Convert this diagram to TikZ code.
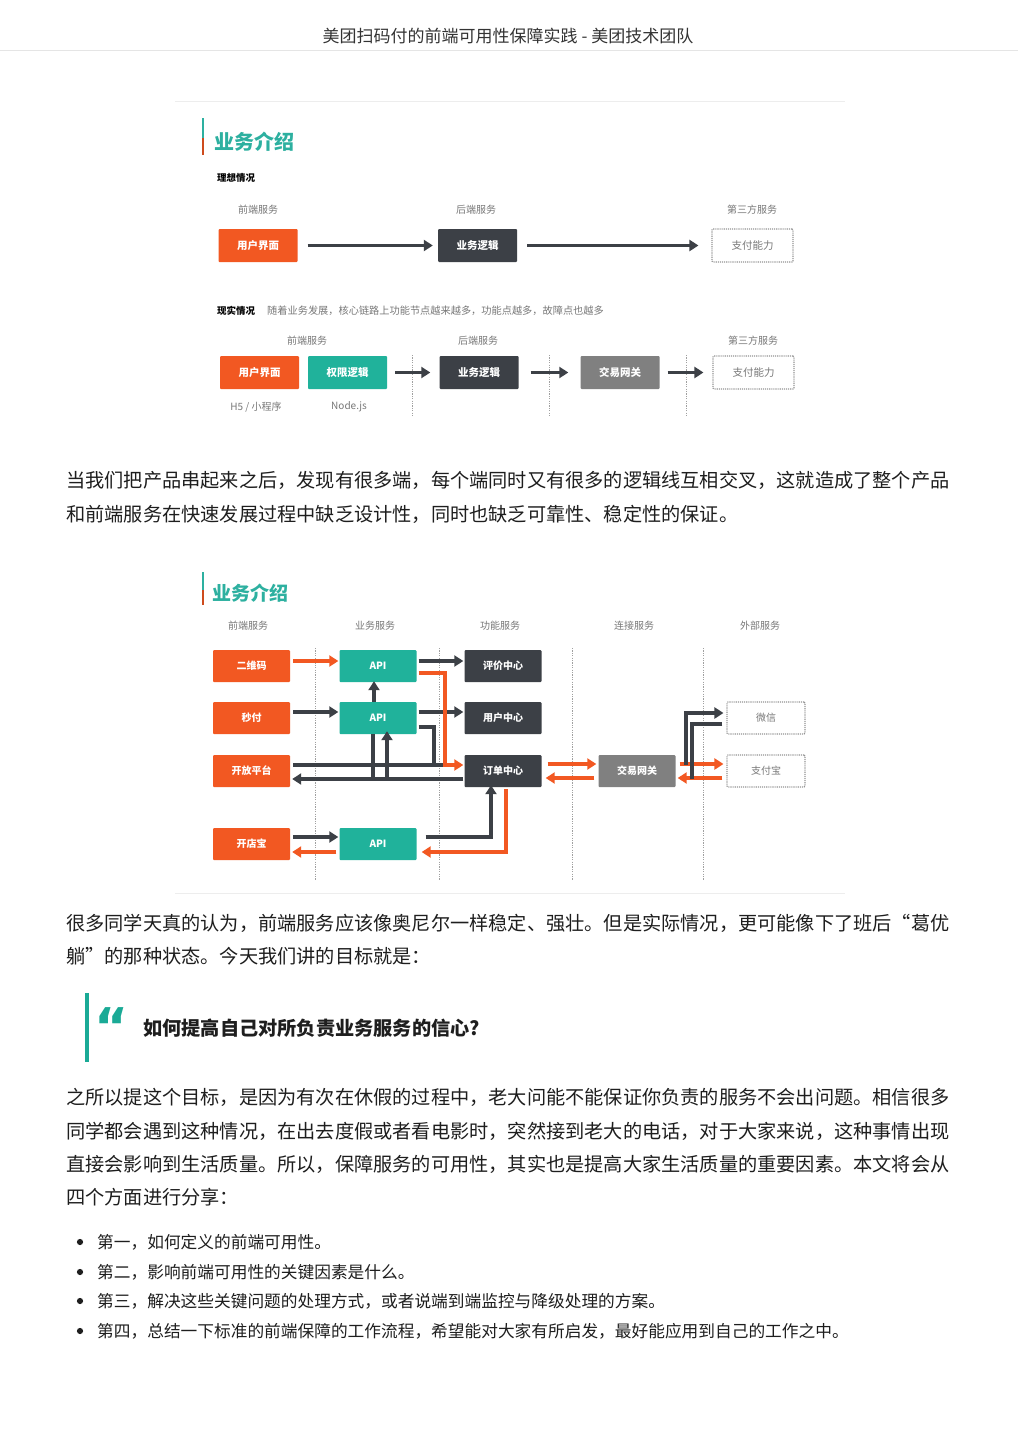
\documentclass[tikz,border=0pt]{standalone}
\usepackage{fontspec}
\setmainfont{Noto Sans CJK SC}
\newfontfamily\qfont{DejaVu Sans}
\usetikzlibrary{arrows.meta,calc}
\definecolor{org}{RGB}{242,88,34}
\definecolor{tl}{RGB}{32,178,155}
\definecolor{dk}{RGB}{60,64,70}
\definecolor{gw}{RGB}{128,128,128}
\definecolor{ttl}{RGB}{45,176,160}
\definecolor{txt}{RGB}{30,30,30}
\definecolor{lbl}{RGB}{120,120,120}
\definecolor{qbar}{RGB}{26,170,150}
\newcommand\myfs[1]{\fontsize{#1}{#1}\selectfont}
\begin{document}
\begin{tikzpicture}[x=1pt,y=-1pt,
  box/.style={minimum width=79pt,minimum height=33pt,inner sep=0pt,rounded corners=1pt,text=white,font=\myfs{10.5}\bfseries},
  sbox/.style={box,minimum width=77pt,minimum height=32pt,font=\myfs{10}\bfseries},
  obox/.style={fill=org},
  tbox/.style={fill=tl},
  dbox/.style={fill=dk},
  gbox/.style={fill=gw},
  pbox/.style={draw=lbl!80,densely dotted,line width=1.1pt,text=lbl,font=\myfs{10.5},fill=white},
  hdr/.style={text=lbl,font=\myfs{10},inner sep=0pt},
  body/.style={anchor=west,text=txt,font=\myfs{19.2},inner sep=0pt},
  bul/.style={anchor=west,text=txt,font=\myfs{16.7},inner sep=0pt},
  darr/.style={draw=dk,line width=3.5pt,-{Triangle[length=9pt,width=11pt]}},
  oarr/.style={draw=org,line width=3.5pt,-{Triangle[length=9pt,width=11pt]}},
  dln/.style={draw=dk,line width=3.5pt},
  oln/.style={draw=org,line width=3.5pt},
  sep/.style={draw=lbl!70,line width=1pt,dash pattern=on 1.2pt off 1.2pt},
  frame/.style={draw=black!7,line width=1pt}
]
\useasboundingbox[fill=white] (0,0) rectangle (1018,1440);

% page header
\node[text=black!80,font=\myfs{17}] (title) at (508,36) {美团扫码付的前端可用性保障实践 - 美团技术团队};
\draw[draw=black!10,line width=1pt] (0,50) -- (1018,50);

% ================= top diagram =================
\draw[frame] (175,101) -- (845,101);
\draw[draw=ttl,line width=2pt] (203,118) -- (203,138);
\draw[draw=org!85!black,line width=2pt] (203,138) -- (203,155);
\node[text=ttl,font=\myfs{20}\bfseries,anchor=west,inner sep=0pt] (t1) at (214,142) {业务介绍};
\node[font=\myfs{9.5}\bfseries,anchor=west,inner sep=0pt] (ideal) at (217,178) {理想情况};
\node[hdr] (h1a) at (258,210) {前端服务};
\node[hdr] (h1b) at (476,210) {后端服务};
\node[hdr] (h1c) at (752,210) {第三方服务};
\node[box,obox] (ui1) at (258,245.5) {用户界面};
\node[box,dbox] (bl1) at (477.5,245.5) {业务逻辑};
\node[box,pbox,minimum width=81pt] (pay1) at (752.5,245.5) {支付能力};
\draw[darr] ($(ui1.east)+(10,0)$) -- ($(bl1.west)+(-5,0)$);
\draw[darr] ($(bl1.east)+(10,0)$) -- ($(pay1.west)+(-13,0)$);

\node[font=\myfs{9.5}\bfseries,anchor=west,inner sep=0pt] (real) at (217,311) {现实情况};
\node[text=lbl,font=\myfs{10.2},anchor=west,inner sep=0pt] (realt) at (267,311) {随着业务发展，核心链路上功能节点越来越多，功能点越多，故障点也越多};
\node[hdr] (h2a) at (307,341) {前端服务};
\node[hdr] (h2b) at (478,341) {后端服务};
\node[hdr] (h2c) at (753,341) {第三方服务};
\node[box,obox] (ui2) at (259.5,372.5) {用户界面};
\node[box,tbox] (auth2) at (347.5,372.5) {权限逻辑};
\node[box,dbox] (bl2) at (479,372.5) {业务逻辑};
\node[box,gbox] (gw2) at (620,372.5) {交易网关};
\node[box,pbox,minimum width=81pt] (pay2) at (753.5,372.5) {支付能力};
\node[hdr] (h5) at (256,407) {H5 / 小程序};
\node[hdr] (nodejs) at (349,407) {Node.js};
\draw[sep] (412,355) -- (412,416);
\draw[sep] (549,355) -- (549,416);
\draw[sep] (686,355) -- (686,416);
\draw[darr] ($(auth2.east)+(8,0)$) -- ($(bl2.west)+(-9,0)$);
\draw[darr] ($(bl2.east)+(12,0)$) -- ($(gw2.west)+(-12,0)$);
\draw[darr] ($(gw2.east)+(8,0)$) -- ($(pay2.west)+(-9,0)$);

% paragraph 1
\node[body] (p1a) at (66,480) {当我们把产品串起来之后，发现有很多端，每个端同时又有很多的逻辑线互相交叉，这就造成了整个产品};
\node[body] (p1b) at (66,514) {和前端服务在快速发展过程中缺乏设计性，同时也缺乏可靠性、稳定性的保证。};

% ================= bottom diagram =================
\draw[draw=ttl,line width=2pt] (203,572) -- (203,590);
\draw[draw=org!85!black,line width=2pt] (203,590) -- (203,605);
\node[text=ttl,font=\myfs{19}\bfseries,anchor=west,inner sep=0pt] (t2) at (212,593) {业务介绍};
\node[hdr] (c1) at (248,626) {前端服务};
\node[hdr] (c2) at (375,626) {业务服务};
\node[hdr] (c3) at (500,626) {功能服务};
\node[hdr] (c4) at (634,626) {连接服务};
\node[hdr] (c5) at (760,626) {外部服务};
\draw[sep] (315,648) -- (315,880);
\draw[sep] (439,648) -- (439,880);
\draw[sep] (572,648) -- (572,880);
\draw[sep] (703,648) -- (703,880);

\node[sbox,obox] (qr) at (251.5,666) {二维码};
\node[sbox,obox] (mf) at (251.5,718) {秒付};
\node[sbox,obox] (op) at (251.5,771) {开放平台};
\node[sbox,obox] (kd) at (251.5,844) {开店宝};
\node[sbox,tbox] (api1) at (378,666) {API};
\node[sbox,tbox] (api2) at (378,718) {API};
\node[sbox,tbox] (api3) at (378,844) {API};
\node[sbox,dbox] (pj) at (503,666) {评价中心};
\node[sbox,dbox] (yh) at (503,718) {用户中心};
\node[sbox,dbox] (dd) at (503,771) {订单中心};
\node[sbox,gbox] (jy) at (637,771) {交易网关};
\node[sbox,pbox,minimum width=78pt,font=\myfs{10}] (wx) at (766,718) {微信};
\node[sbox,pbox,minimum width=78pt,font=\myfs{10}] (zfb) at (766,771) {支付宝};

% row 1
\draw[oarr] ($(qr.east)+(3,-5)$) -- ($(api1.west)+(-1,-5)$);
\draw[darr] ($(api1.east)+(2,-5)$) -- ($(pj.west)+(-1,-5)$);
% row 2
\draw[darr] ($(mf.east)+(3,-6)$) -- ($(api2.west)+(-1,-6)$);
\draw[darr] ($(api2.east)+(2,-6)$) -- ($(yh.west)+(-1,-6)$);
\draw[darr] ($(api2.north)+(-4,0)$) -- ($(api1.south)+(-4,-1)$);
\coordinate (k1) at (434,765);
\draw[dln] ($(api2.east)+(2,9)$) -| (k1);
% open platform lines
\draw[dln] ($(op.east)+(3,-6)$) -- (447,765);
\draw[darr] ($(dd.west)+(-1,8)$) -- ($(op.east)+(2,8)$);
\draw[dln] ($(api2.south)+(-5,0)$) -- (373,780.7);
\draw[darr] (387,780.7) -- ($(api2.south)+(9,-3)$);
% orange from api1 to order center
\coordinate (k2) at (445,673);
\draw[oarr] ($(api1.east)+(2,7)$) -- (k2) |- ($(dd.west)+(-1,-6)$);
% row 4
\draw[darr] ($(kd.east)+(3,-7)$) -- ($(api3.west)+(-1,-7)$);
\draw[oarr] ($(api3.west)+(-3,8)$) -- ($(kd.east)+(2,8)$);
\coordinate (k3) at (491,837);
\draw[darr] ($(api3.east)+(9,-7)$) -- (k3) -- ($(dd.south)+(-12,-2)$);
\coordinate (k4) at (506,852);
\draw[oarr] ($(dd.south)+(3,2)$) -- (k4) -- ($(api3.east)+(5,8)$);
% order center <-> gateway
\draw[oarr] ($(dd.east)+(6,-7)$) -- ($(jy.west)+(-2,-7)$);
\draw[oarr] ($(jy.west)+(-4,7)$) -- ($(dd.east)+(4,7)$);
% gateway <-> alipay
\draw[oarr] ($(jy.east)+(4,-7)$) -- ($(zfb.west)+(-3,-7)$);
\draw[oarr] ($(zfb.west)+(-4,7)$) -- ($(jy.east)+(2,7)$);
% gateway <-> wechat
\coordinate (k5) at (686,713);
\draw[darr] (686,765) -- (k5) -- ($(wx.west)+(-3,-5)$);
\coordinate (k6) at (692,724);
\draw[dln] ($(wx.west)+(-4,6)$) -- (k6) -- (692,779);

\draw[frame] (175,893) -- (845,893);

% paragraph 2
\node[body] (p2a) at (66,923) {很多同学天真的认为，前端服务应该像奥尼尔一样稳定、强壮。但是实际情况，更可能像下了班后“葛优};
\node[body] (p2b) at (66,956) {躺”的那种状态。今天我们讲的目标就是：};

% quote
\fill[qbar] (84.5,993) rectangle (88.5,1062);
\node[text=qbar,font=\myfs{52}\qfont\bfseries,inner sep=0pt] (qm) at (112,1027) {“};
\node[body,font=\myfs{19.2}\bfseries] (quote) at (143,1028) {如何提高自己对所负责业务服务的信心?};

% paragraph 3
\node[body] (p3a) at (66,1097) {之所以提这个目标，是因为有次在休假的过程中，老大问能不能保证你负责的服务不会出问题。相信很多};
\node[body] (p3b) at (66,1131) {同学都会遇到这种情况，在出去度假或者看电影时，突然接到老大的电话，对于大家来说，这种事情出现};
\node[body] (p3c) at (66,1164) {直接会影响到生活质量。所以，保障服务的可用性，其实也是提高大家生活质量的重要因素。本文将会从};
\node[body] (p3d) at (66,1197) {四个方面进行分享：};

% bullets
\foreach \yy in {1242,1272,1301,1331}{
  \fill[txt] (80,\yy) circle (3.1);
}
\node[bul] (b1) at (97,1242) {第一，如何定义的前端可用性。};
\node[bul] (b2) at (97,1272) {第二，影响前端可用性的关键因素是什么。};
\node[bul] (b3) at (97,1301) {第三，解决这些关键问题的处理方式，或者说端到端监控与降级处理的方案。};
\node[bul] (b4) at (97,1331) {第四，总结一下标准的前端保障的工作流程，希望能对大家有所启发，最好能应用到自己的工作之中。};
\end{tikzpicture}
\end{document}
